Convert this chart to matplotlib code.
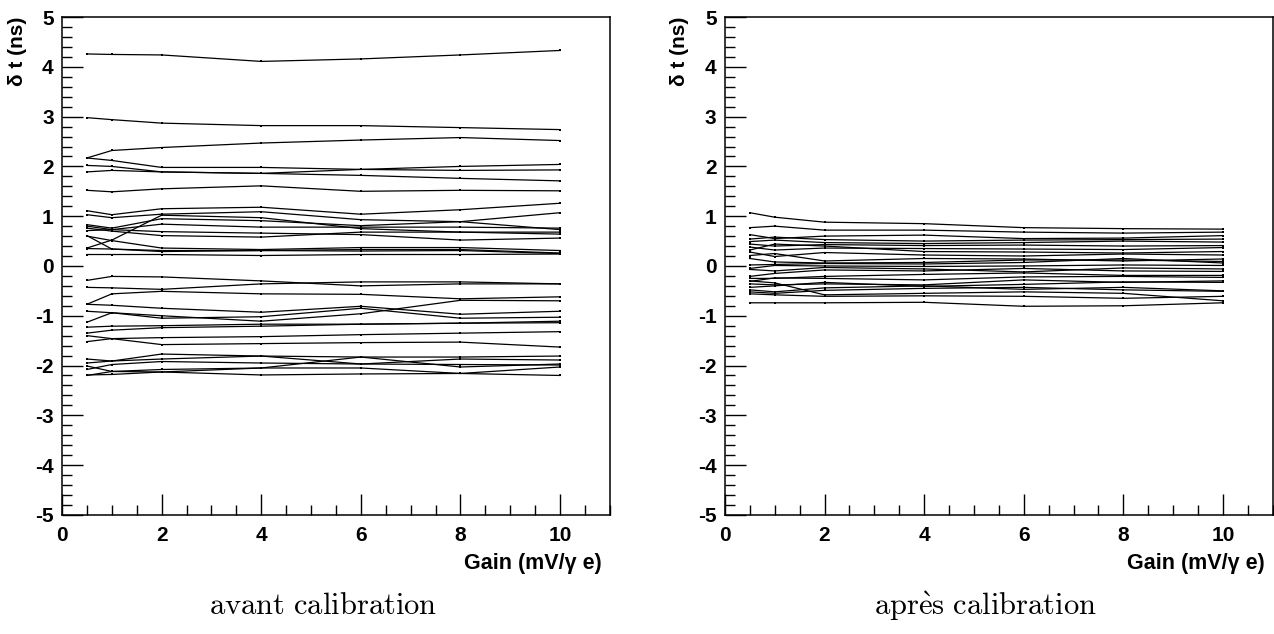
import numpy as np
import matplotlib.pyplot as plt
from matplotlib.ticker import MultipleLocator

plt.rcParams['font.family'] = ['Liberation Sans', 'DejaVu Sans']
plt.rcParams['mathtext.fontset'] = 'cm'
plt.rcParams['axes.unicode_minus'] = False

# Gains (mV / gamma e)
gain = [0.5, 1, 2, 4, 6, 8, 10]

# delta t (ns) per channel, avant calibration
avant = [
    [4.26, 4.25, 4.24, 4.11, 4.16, 4.24, 4.33],
    [2.98, 2.94, 2.87, 2.82, 2.82, 2.78, 2.74],
    [2.17, 2.32, 2.38, 2.47, 2.53, 2.58, 2.52],
    [2.17, 2.12, 1.98, 1.98, 1.94, 2.00, 2.04],
    [2.02, 2.00, 1.89, 1.86, 1.82, 1.76, 1.71],
    [1.89, 1.92, 1.89, 1.86, 1.94, 1.92, 1.93],
    [1.52, 1.49, 1.55, 1.61, 1.50, 1.52, 1.51],
    [1.11, 1.03, 1.15, 1.18, 1.04, 1.13, 1.26],
    [1.03, 0.97, 1.04, 1.09, 0.93, 0.89, 1.07],
    [0.83, 0.76, 0.95, 0.91, 0.81, 0.89, 0.73],
    [0.80, 0.73, 0.84, 0.78, 0.78, 0.78, 0.76],
    [0.76, 0.70, 0.61, 0.58, 0.68, 0.68, 0.68],
    [0.71, 0.73, 0.69, 0.66, 0.63, 0.52, 0.56],
    [0.36, 0.52, 1.02, 0.97, 0.75, 0.68, 0.64],
    [0.60, 0.51, 0.36, 0.33, 0.37, 0.37, 0.31],
    [0.61, 0.34, 0.31, 0.31, 0.33, 0.33, 0.26],
    [0.35, 0.34, 0.29, 0.31, 0.30, 0.31, 0.25],
    [0.23, 0.23, 0.23, 0.21, 0.23, 0.23, 0.24],
    [-0.29, -0.21, -0.22, -0.30, -0.40, -0.36, -0.36],
    [-0.43, -0.44, -0.47, -0.36, -0.32, -0.32, -0.36],
    [-0.77, -0.56, -0.51, -0.56, -0.57, -0.66, -0.62],
    [-0.77, -0.79, -0.85, -0.93, -0.81, -0.97, -0.91],
    [-0.91, -0.94, -1.05, -1.02, -0.85, -1.05, -1.03],
    [-1.13, -0.94, -1.00, -1.11, -0.96, -0.69, -0.70],
    [-1.23, -1.21, -1.20, -1.17, -1.17, -1.15, -1.11],
    [-1.35, -1.29, -1.24, -1.21, -1.17, -1.15, -1.14],
    [-1.40, -1.46, -1.44, -1.42, -1.38, -1.35, -1.32],
    [-1.52, -1.46, -1.58, -1.56, -1.54, -1.53, -1.63],
    [-1.87, -1.91, -1.77, -1.81, -1.83, -1.83, -1.81],
    [-1.95, -1.91, -1.87, -1.81, -1.97, -1.87, -1.89],
    [-2.01, -2.12, -2.08, -2.05, -1.83, -2.03, -1.97],
    [-2.08, -1.98, -1.92, -1.95, -1.97, -1.98, -1.99],
    [-2.19, -2.18, -2.13, -2.05, -2.05, -2.16, -2.03],
    [-2.20, -2.12, -2.13, -2.19, -2.17, -2.16, -2.20],
]

# delta t (ns) per channel, apres calibration
apres = [
    [1.07, 0.98, 0.88, 0.85, 0.77, 0.75, 0.74],
    [0.77, 0.80, 0.72, 0.72, 0.68, 0.66, 0.68],
    [0.63, 0.55, 0.60, 0.62, 0.55, 0.56, 0.61],
    [0.54, 0.58, 0.53, 0.50, 0.52, 0.53, 0.54],
    [0.49, 0.52, 0.47, 0.45, 0.47, 0.50, 0.48],
    [0.44, 0.40, 0.43, 0.41, 0.42, 0.40, 0.41],
    [0.38, 0.32, 0.36, 0.35, 0.34, 0.33, 0.37],
    [0.32, 0.44, 0.40, 0.29, 0.28, 0.26, 0.29],
    [0.28, 0.19, 0.27, 0.22, 0.20, 0.24, 0.22],
    [0.21, 0.25, 0.10, 0.15, 0.14, 0.10, 0.14],
    [0.15, 0.08, 0.06, 0.07, 0.12, 0.12, 0.09],
    [0.02, 0.03, 0.05, 0.04, 0.07, 0.15, 0.06],
    [-0.05, 0.01, 0.00, -0.01, 0.00, 0.02, 0.01],
    [-0.07, -0.10, -0.03, -0.06, -0.12, -0.04, -0.06],
    [-0.21, -0.15, -0.08, -0.10, -0.05, -0.10, -0.11],
    [-0.25, -0.25, -0.21, -0.17, -0.14, -0.19, -0.19],
    [-0.31, -0.24, -0.25, -0.28, -0.22, -0.21, -0.23],
    [-0.36, -0.38, -0.36, -0.38, -0.28, -0.33, -0.30],
    [-0.43, -0.40, -0.33, -0.41, -0.37, -0.32, -0.33],
    [-0.48, -0.52, -0.44, -0.40, -0.47, -0.43, -0.50],
    [-0.52, -0.55, -0.49, -0.45, -0.43, -0.48, -0.51],
    [-0.56, -0.58, -0.61, -0.60, -0.61, -0.65, -0.61],
    [-0.30, -0.34, -0.58, -0.55, -0.52, -0.55, -0.70],
    [-0.74, -0.74, -0.74, -0.73, -0.81, -0.80, -0.74],
]

captions = [r'$\mathrm{avant\ calibration}$', r'$\mathrm{apr\grave{e}s\ calibration}$']

fig = plt.figure(figsize=(12.74, 6.34), dpi=100)
ax1 = fig.add_axes([0.0487, 0.188, 0.430, 0.785])
ax2 = fig.add_axes([0.569, 0.188, 0.430, 0.785])

for ax, data, cap in zip([ax1, ax2], [avant, apres], captions):
    for serie in data:
        ax.plot(gain, serie, color='black', lw=0.9, marker='s', ms=1.8, mew=0)
    ax.set_xlim(0, 11)
    ax.set_ylim(-5, 5)
    ax.xaxis.set_major_locator(MultipleLocator(2))
    ax.xaxis.set_minor_locator(MultipleLocator(0.5))
    ax.yaxis.set_major_locator(MultipleLocator(1))
    ax.yaxis.set_minor_locator(MultipleLocator(0.2))
    ax.tick_params(which='major', direction='in', length=15, width=1, labelsize=15)
    ax.tick_params(axis='x', which='major', pad=8)
    ax.tick_params(axis='y', which='major', pad=6)
    ax.tick_params(which='minor', direction='in', length=7, width=1)
    for lab in ax.get_xticklabels() + ax.get_yticklabels():
        lab.set_fontweight('bold')
    for s in ax.spines.values():
        s.set_linewidth(1.1)
    ax.set_xlabel('Gain (mV/γ e)', loc='right', fontsize=15.5, fontweight='bold', labelpad=6)
    ax.set_ylabel('δ t (ns)', loc='top', fontsize=15, fontweight='bold', labelpad=6)
    ax.xaxis.label.set_x(0.985)
    pos = ax.get_position()
    fig.text(pos.x0 + pos.width * 0.476, 0.044, cap, ha='center', va='center', fontsize=22)

fig.savefig('out.png', dpi=100)
